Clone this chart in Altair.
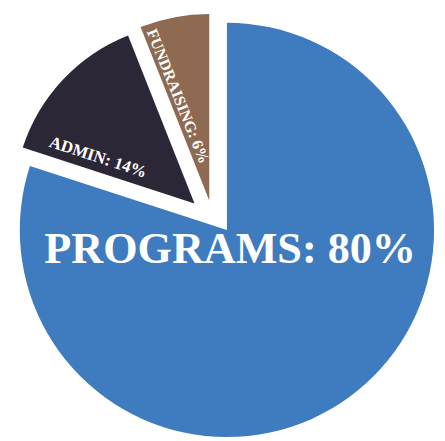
import altair as alt
import pandas as pd
import math

categories = ["PROGRAMS", "ADMIN", "FUNDRAISING"]
values = [80, 14, 6]
colors = ["#3e7bbf", "#2c2737", "#8f6a52"]

df = pd.DataFrame({"category": categories, "value": values})
df["end"] = df["value"].cumsum()
df["start"] = df["end"] - df["value"]

theta_scale = alt.Scale(domain=[0, 100], range=[0, 2 * math.pi])
color_scale = alt.Scale(domain=categories, range=colors)

def slice_layer(cat, cx, cy, r):
    return alt.Chart(df).transform_filter(
        alt.datum.category == cat
    ).mark_arc(radius=r).encode(
        theta=alt.Theta("start:Q", scale=theta_scale),
        theta2="end:Q",
        color=alt.Color("category:N", scale=color_scale, legend=None),
        x=alt.value(cx),
        y=alt.value(cy),
    )

programs = slice_layer("PROGRAMS", 223, 222, 211)
admin = slice_layer("ADMIN", 190, 195, 184)
fund = slice_layer("FUNDRAISING", 205, 192, 190)

label_font = "Liberation Serif"

def label_layer(cat, sep, x, y, size, angle=0):
    return alt.Chart(df).transform_filter(alt.datum.category == cat).transform_calculate(
        label="datum.category + '" + sep + "' + datum.value + '%'"
    ).mark_text(
        font=label_font, fontSize=size, fontWeight="bold", color="white",
        align="left", baseline="alphabetic", angle=angle
    ).encode(text=alt.Text("label:N"), x=alt.value(x), y=alt.value(y))

lab_prog = label_layer("PROGRAMS", ":  ", 37, 256, 45)
lab_admin = label_layer("ADMIN", ": ", 41, 137, 17, 18)
lab_fund = label_layer("FUNDRAISING", ": ", 141, 20, 16, 68)

chart = alt.layer(programs, admin, fund, lab_prog, lab_admin, lab_fund).properties(
    width=437, height=433, padding=0, background="white"
).configure_view(stroke=None)

chart.save("out.html", embed_options={"renderer": "svg", "actions": False})
